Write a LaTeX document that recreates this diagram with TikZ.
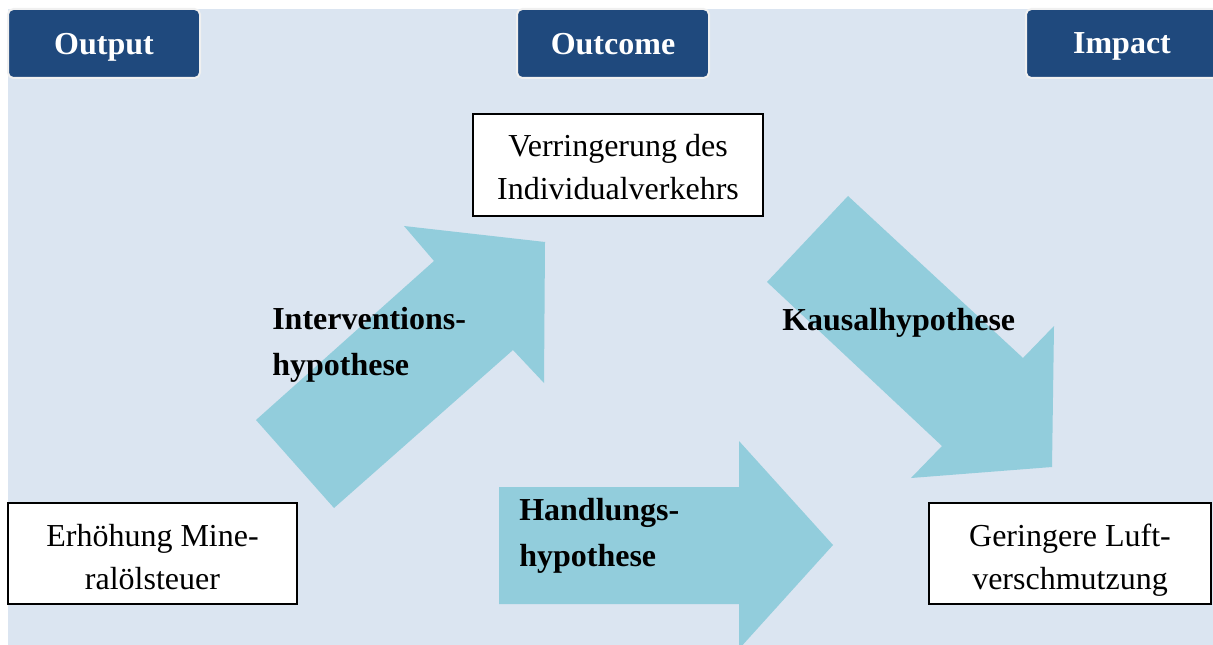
\documentclass[tikz,border=0pt]{standalone}
\usepackage{fontspec}
\setmainfont{Liberation Serif}
\definecolor{bgblue}{HTML}{DBE5F1}
\definecolor{hdrblue}{HTML}{1F497D}
\definecolor{arrowteal}{HTML}{92CDDC}
\begin{document}
\begin{tikzpicture}[x=0.75pt,y=-0.75pt,
  hdr/.style={fill=hdrblue, draw=white!94!black, line width=1.5pt, rounded corners=4pt,
    text=white, font=\fontsize{24}{28}\selectfont\bfseries, text depth=0pt,
    minimum width=144pt, minimum height=51.75pt, inner sep=0pt},
  box/.style={draw=black, line width=1.1pt, fill=white, inner sep=0pt},
  boxtext/.style={align=center, font=\fontsize{24}{32.25}\selectfont, inner sep=0pt},
  lab/.style={font=\fontsize{24}{34.5}\selectfont\bfseries, align=left, inner sep=0pt},
  blockarrow/.style={fill=arrowteal}]
\useasboundingbox (0,0) rectangle (1213,645);
\fill[bgblue] (8,9) rectangle (1213,645);

% header boxes
\node[hdr] (output) at (104,43.5) {Output};
\node[hdr] (outcome) at (613,43.5) {Outcome};
\node[hdr] (impact) at (1122,43.5) {Impact};

% block arrows
\fill[blockarrow] (256,420) -- (434,261) -- (404,226) -- (545,242) -- (544,383) -- (513,350) -- (334,508) -- cycle;
\fill[blockarrow] (848,196) -- (1023,358) -- (1054,326) -- (1052,467) -- (911,478) -- (942,446) -- (767,282) -- cycle;
\fill[blockarrow] (499,487) -- (739,487) -- (739,441) -- (833,545) -- (739,649) -- (739,604) -- (499,604) -- cycle;

% boxes
\node[box, minimum width=217.5pt, minimum height=76.5pt] (verr) at (618,165) {};
\node[boxtext] (verrtxt) at ([yshift=-1.2pt]verr.center) {Verringerung des\\Individualverkehrs};
\node[box, minimum width=216.75pt, minimum height=75.75pt] (erh) at (152.5,553.5) {};
\node[boxtext] (erhtxt) at ([yshift=-2.3pt]erh.center) {Erhöhung Mine-\\ralölsteuer};
\node[box, minimum width=211.5pt, minimum height=75.75pt] (ger) at (1070,553.5) {};
\node[boxtext] (gertxt) at ([yshift=-5pt]ger.center) {Geringere Luft-\\verschmutzung};

% labels
\node[lab, anchor=north west] (intlab) at (272,307) {Interventions-\\hypothese};
\node[lab, anchor=base west] (kauslab) at (782,330) {Kausalhypothese};
\node[lab, anchor=north west] (handlab) at (519,498) {Handlungs-\\hypothese};
\end{tikzpicture}
\end{document}
